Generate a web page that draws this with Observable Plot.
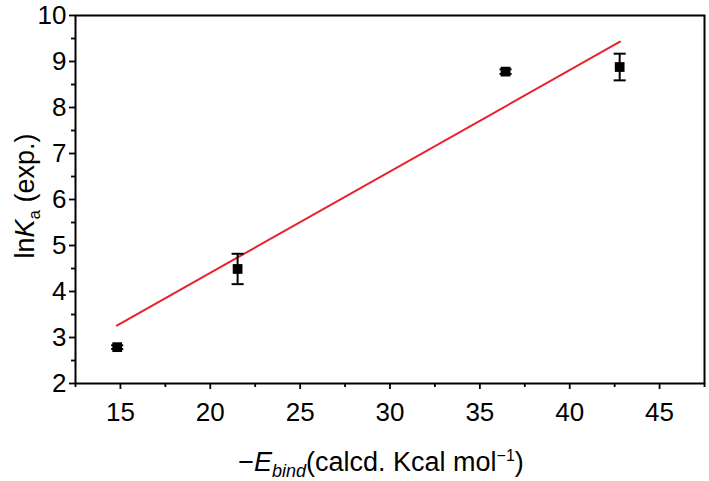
<!DOCTYPE html>
<html>
<head>
<meta charset="utf-8">
<script src="https://cdn.jsdelivr.net/npm/d3@7"></script>
<script src="https://cdn.jsdelivr.net/npm/@observablehq/plot@0.6"></script>
<style>
  body { margin: 0; background: #fff; }
  #chart svg { display: block; }
</style>
</head>
<body>
<div id="chart"></div>
<script>
// Data
const energies = [14.82, 21.52, 36.43, 42.78];
const lnKa = [2.79, 4.49, 8.78, 8.88];
const lnKaErr = [0.04, 0.33, 0.05, 0.29];
// Fitted line endpoints
const fitX = [14.8, 42.8];
const fitY = [3.26, 9.43];
// Tick values
const xTicks = [15, 20, 25, 30, 35, 40, 45];
const xMinor = [12.5, 17.5, 22.5, 27.5, 32.5, 37.5, 42.5, 47.5];
const yTicks = [2, 3, 4, 5, 6, 7, 8, 9, 10];
const yMinor = [2.5, 3.5, 4.5, 5.5, 6.5, 7.5, 8.5, 9.5];

const points = energies.map((e, i) => ({x: e, y: lnKa[i], lo: lnKa[i] - lnKaErr[i], hi: lnKa[i] + lnKaErr[i]}));
const fit = fitX.map((x, i) => ({x, y: fitY[i]}));

const cap = {
  draw(ctx, size) {
    const w = Math.sqrt(size);
    ctx.moveTo(-w, 0);
    ctx.lineTo(w, 0);
  }
};

const font = "'Liberation Sans', Arial, sans-serif";
const fs = 26;
const ts = 27;

const chart = Plot.plot({
  width: 709,
  height: 481,
  marginLeft: 75,
  marginRight: 5,
  marginTop: 15,
  marginBottom: 98,
  style: {fontFamily: font, fontSize: fs + "px", color: "#000", background: "#fff"},
  x: {domain: [12.5, 47.5]},
  y: {domain: [2, 10]},
  marks: [
    Plot.axisX({ticks: xTicks, tickSize: 6, tickPadding: 13, label: null, fontSize: fs, strokeWidth: 1.8}),
    Plot.axisX({ticks: xMinor, tickSize: 4, text: null, label: null, strokeWidth: 1.8}),
    Plot.axisY({ticks: yTicks, tickSize: 6, tickPadding: 3, label: null, fontSize: fs, strokeWidth: 1.8}),
    Plot.axisY({ticks: yMinor, tickSize: 4, text: null, label: null, strokeWidth: 1.8}),
    Plot.line(fit, {x: "x", y: "y", stroke: "#e8212b", strokeWidth: 2}),
    Plot.ruleX(points, {x: "x", y1: "lo", y2: "hi", stroke: "#000", strokeWidth: 2}),
    Plot.dot(points, {x: "x", y: "lo", symbol: cap, r: 3.4, stroke: "#000", strokeWidth: 2, fill: "none"}),
    Plot.dot(points, {x: "x", y: "hi", symbol: cap, r: 3.4, stroke: "#000", strokeWidth: 2, fill: "none"}),
    Plot.dot(points, {x: "x", y: "y", symbol: "square", r: 5.5, fill: "#000", stroke: "none"}),
    Plot.frame({stroke: "#000", strokeWidth: 2})
  ]
});

const svg = d3.select(chart);
svg.selectAll("g[aria-label*='tick label']").attr("font-size", fs).style("font-size", fs + "px");

// X axis title
const xt = svg.append("text")
  .attr("x", 381).attr("y", 471)
  .attr("text-anchor", "middle")
  .attr("font-family", font).attr("font-size", ts).attr("fill", "#000");
xt.append("tspan").text("\u2212");
xt.append("tspan").attr("font-style", "italic").text("E");
xt.append("tspan").attr("font-style", "italic").attr("font-size", 18).attr("dy", 6).text("bind");
xt.append("tspan").attr("dy", -6).text("(calcd. Kcal mol");
xt.append("tspan").attr("font-size", 16).attr("dy", -10).text("\u22121");
xt.append("tspan").attr("dy", 10).text(")");

// Y axis title
const yt = svg.append("text")
  .attr("transform", "translate(34,196) rotate(-90)")
  .attr("text-anchor", "middle")
  .attr("font-family", font).attr("font-size", ts).attr("fill", "#000");
yt.append("tspan").text("ln");
yt.append("tspan").attr("font-style", "italic").text("K");
yt.append("tspan").attr("font-size", 17).attr("dy", 6).text("a");
yt.append("tspan").attr("dy", -6).text(" (exp.)");

document.getElementById("chart").appendChild(chart);
</script>
</body>
</html>
